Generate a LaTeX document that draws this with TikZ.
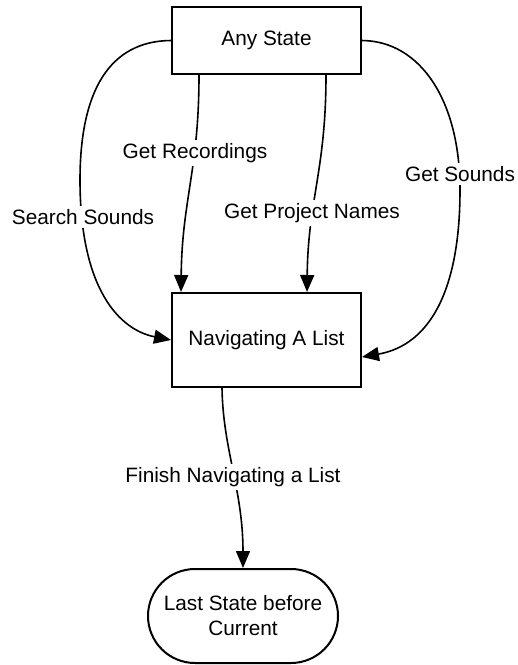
\documentclass[tikz,border=0pt]{standalone}
\usepackage{fontspec}
\setmainfont{Liberation Sans}
\usetikzlibrary{arrows.meta,shapes.misc}
\begin{document}
\begin{tikzpicture}[x=1pt,y=-1pt,
  every node/.style={font=\fontsize{20.8}{25}\selectfont},
  statebox/.style={draw, line width=2pt, inner sep=0pt, align=center},
  endstate/.style={draw, line width=2pt, rounded rectangle, inner sep=0pt,
    minimum width=190pt, minimum height=94pt, align=center},
  trans/.style={line width=1.6pt, -{Triangle[length=17pt,width=14pt]}},
  lbl/.style={fill=white, inner sep=3pt}]
  \useasboundingbox (0,0) rectangle (518,665);

  % states
  \node[statebox, minimum width=189pt, minimum height=67pt] (any) at (266.5,40.5) {Any State};
  \node[statebox, minimum width=189pt, minimum height=94pt] (nav) at (266.5,340) {Navigating A List};
  \node[endstate] (last) at (243,616) {Last State before\\Current};

  % transitions into the list
  \draw[trans] (any.west) .. controls (110,41) and (80,90) .. (80,180)
    .. controls (80,290) and (120,330) .. (nav.west);
  \draw[trans] ([xshift=28pt]any.south west) .. controls (199,170) and (182,200) .. ([xshift=10pt]nav.north west);
  \draw[trans] ([xshift=155pt]any.south west) .. controls (326,170) and (308,200) .. ([xshift=136pt]nav.north west);
  \draw[trans] (any.east) .. controls (420,41) and (460,100) .. (460,190)
    .. controls (460,290) and (430,345) .. ([yshift=-17pt]nav.east);

  % transition out of the list
  \draw[trans] ([xshift=51pt]nav.south west) .. controls (223,450) and (243,490) .. (last.north);

  % labels
  \node[lbl] (lsearch) at (83,217) {Search Sounds};
  \node[lbl] (lrec) at (195,153) {Get Recordings};
  \node[lbl] (lproj) at (312,213) {Get Project Names};
  \node[lbl] (lsounds) at (460,174) {Get Sounds};
  \node[lbl] (lfinish) at (233,477) {Finish Navigating a List};
\end{tikzpicture}
\end{document}
